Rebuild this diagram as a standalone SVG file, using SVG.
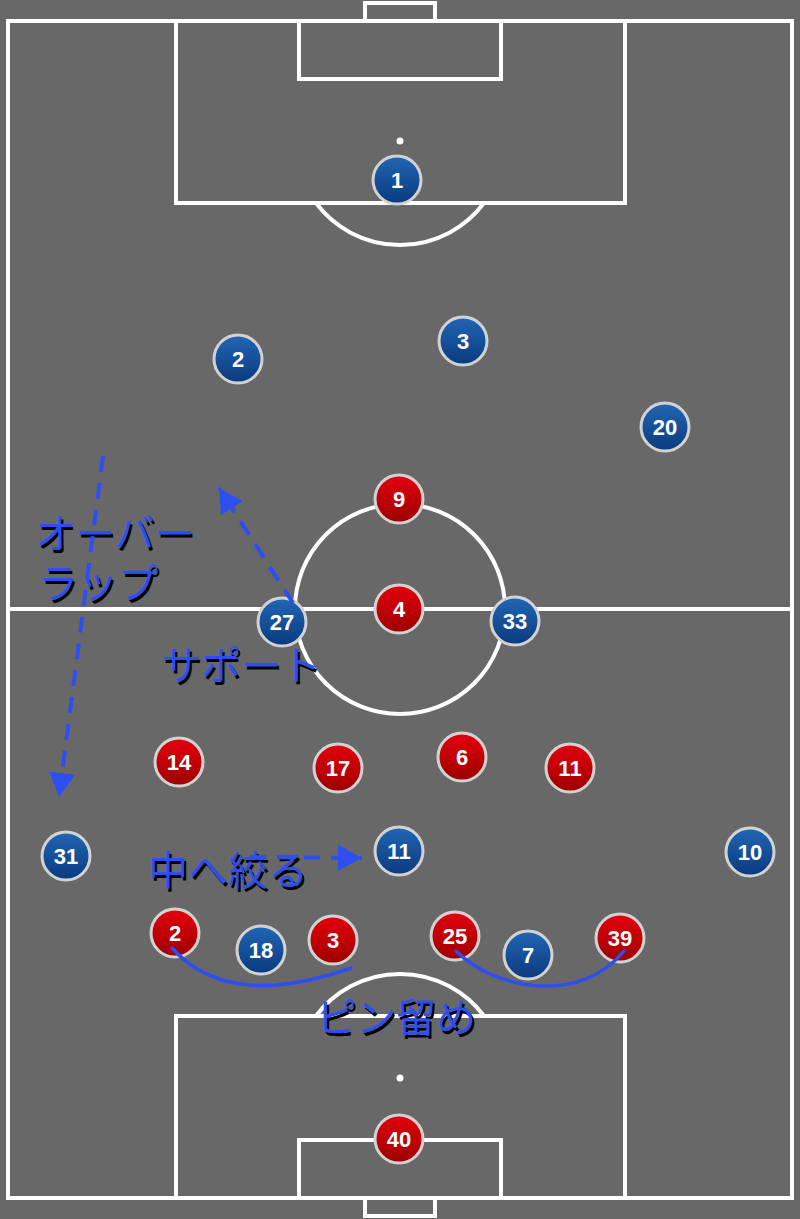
<svg xmlns="http://www.w3.org/2000/svg" width="800" height="1219" viewBox="0 0 800 1219">
<defs>
<style>
.line{fill:none;stroke:#fff;stroke-width:4}
.ball{stroke:#d2d2d2;stroke-width:3}
.blue{fill:url(#gb)}
.red{fill:url(#gr)}
.num{font-family:"Liberation Sans",Arial,sans-serif;font-weight:bold;font-size:22px;fill:#fff;text-anchor:middle}
.lbl{font-family:"Noto Sans CJK JP","Noto Sans",sans-serif;font-size:40px}
.sh{fill:#000}
.fg{fill:#2d4ff2}
.dash{fill:none;stroke:#2d4ff2;stroke-width:4;stroke-dasharray:16 11}
.curve{fill:none;stroke:#2d4ff2;stroke-width:3.5;stroke-linecap:round}
</style>
<linearGradient id="gb" x1="0" y1="0" x2="0" y2="1">
<stop offset="0" stop-color="#2266b4"/><stop offset="1" stop-color="#0a3a7e"/>
</linearGradient>
<linearGradient id="gr" x1="0" y1="0" x2="0" y2="1">
<stop offset="0" stop-color="#e4000e"/><stop offset="1" stop-color="#9c0000"/>
</linearGradient>
<marker id="ah" markerUnits="userSpaceOnUse" markerWidth="26" markerHeight="28" refX="24" refY="13" orient="auto" viewBox="0 0 26 26">
<path d="M0,0 L24,13 L0,26 z" fill="#2d4ff2"/>
</marker>
</defs>
<rect width="800" height="1219" fill="#686868"/>
<g id="pitch">
<rect class="line" x="8" y="21" width="784" height="1177"/>
<line class="line" x1="8" y1="609" x2="792" y2="609"/>
<circle class="line" cx="400" cy="609" r="105"/>
<rect class="line" x="365" y="3" width="70" height="18"/>
<rect class="line" x="176" y="21" width="449" height="182"/>
<rect class="line" x="299" y="21" width="202" height="58"/>
<circle cx="400" cy="141" r="3.5" fill="#fff"/>
<path class="line" d="M316,203 A105,105 0 0 0 484,203"/>
<rect class="line" x="365" y="1198" width="70" height="18"/>
<rect class="line" x="176" y="1016" width="449" height="182"/>
<rect class="line" x="299" y="1140" width="202" height="58"/>
<circle cx="400" cy="1078" r="3.5" fill="#fff"/>
<path class="line" d="M316,1016 A105,105 0 0 1 484,1016"/>
</g>
<g id="blue-1"><circle class="ball blue" cx="397" cy="180" r="24"/><text class="num" x="397" y="188">1</text></g>
<g id="blue-2"><circle class="ball blue" cx="238" cy="359" r="24"/><text class="num" x="238" y="367">2</text></g>
<g id="blue-3"><circle class="ball blue" cx="463" cy="341" r="24"/><text class="num" x="463" y="349">3</text></g>
<g id="blue-20"><circle class="ball blue" cx="665" cy="427" r="24"/><text class="num" x="665" y="435">20</text></g>
<g id="blue-27"><circle class="ball blue" cx="282" cy="622" r="24"/><text class="num" x="282" y="630">27</text></g>
<g id="blue-33"><circle class="ball blue" cx="515" cy="621" r="24"/><text class="num" x="515" y="629">33</text></g>
<g id="blue-31"><circle class="ball blue" cx="66" cy="856" r="24"/><text class="num" x="66" y="864">31</text></g>
<g id="blue-11"><circle class="ball blue" cx="399" cy="851" r="24"/><text class="num" x="399" y="859">11</text></g>
<g id="blue-10"><circle class="ball blue" cx="750" cy="852" r="24"/><text class="num" x="750" y="860">10</text></g>
<g id="blue-18"><circle class="ball blue" cx="261" cy="950" r="24"/><text class="num" x="261" y="958">18</text></g>
<g id="blue-7"><circle class="ball blue" cx="528" cy="955" r="24"/><text class="num" x="528" y="963">7</text></g>
<g id="red-9"><circle class="ball red" cx="399" cy="499" r="24"/><text class="num" x="399" y="507">9</text></g>
<g id="red-4"><circle class="ball red" cx="399" cy="609" r="24"/><text class="num" x="399" y="617">4</text></g>
<g id="red-14"><circle class="ball red" cx="179" cy="762" r="24"/><text class="num" x="179" y="770">14</text></g>
<g id="red-17"><circle class="ball red" cx="338" cy="768" r="24"/><text class="num" x="338" y="776">17</text></g>
<g id="red-6"><circle class="ball red" cx="462" cy="757" r="24"/><text class="num" x="462" y="765">6</text></g>
<g id="red-11"><circle class="ball red" cx="570" cy="768" r="24"/><text class="num" x="570" y="776">11</text></g>
<g id="red-2"><circle class="ball red" cx="175" cy="933" r="24"/><text class="num" x="175" y="941">2</text></g>
<g id="red-3"><circle class="ball red" cx="333" cy="940" r="24"/><text class="num" x="333" y="948">3</text></g>
<g id="red-25"><circle class="ball red" cx="455" cy="936" r="24"/><text class="num" x="455" y="944">25</text></g>
<g id="red-39"><circle class="ball red" cx="620" cy="938" r="24"/><text class="num" x="620" y="946">39</text></g>
<g id="red-40"><circle class="ball red" cx="399" cy="1139" r="24"/><text class="num" x="399" y="1147">40</text></g>
<g id="labels">
<g class="lbl sh" transform="translate(2,3)">
<text x="35" y="548">オーバー</text>
<text x="38" y="598">ラップ</text>
<text x="161" y="680">サポート</text>
<text x="148" y="885">中へ絞る</text>
<text x="316" y="1032">ピン留め</text>
</g>
<g class="lbl fg">
<text x="35" y="548">オーバー</text>
<text x="38" y="598">ラップ</text>
<text x="161" y="680">サポート</text>
<text x="148" y="885">中へ絞る</text>
<text x="316" y="1032">ピン留め</text>
</g>
</g>
<g id="connectors">
<line class="dash" x1="103" y1="456" x2="59" y2="797" marker-end="url(#ah)"/>
<line class="dash" x1="293" y1="603" x2="219" y2="488" marker-end="url(#ah)"/>
<line class="dash" x1="250" y1="857" x2="362" y2="858" marker-end="url(#ah)"/>
<path class="curve" d="M172,948 C205,985 260,1000 351,968"/>
<path class="curve" d="M456,951 C495,990 580,1005 624,951"/>
</g>
</svg>
